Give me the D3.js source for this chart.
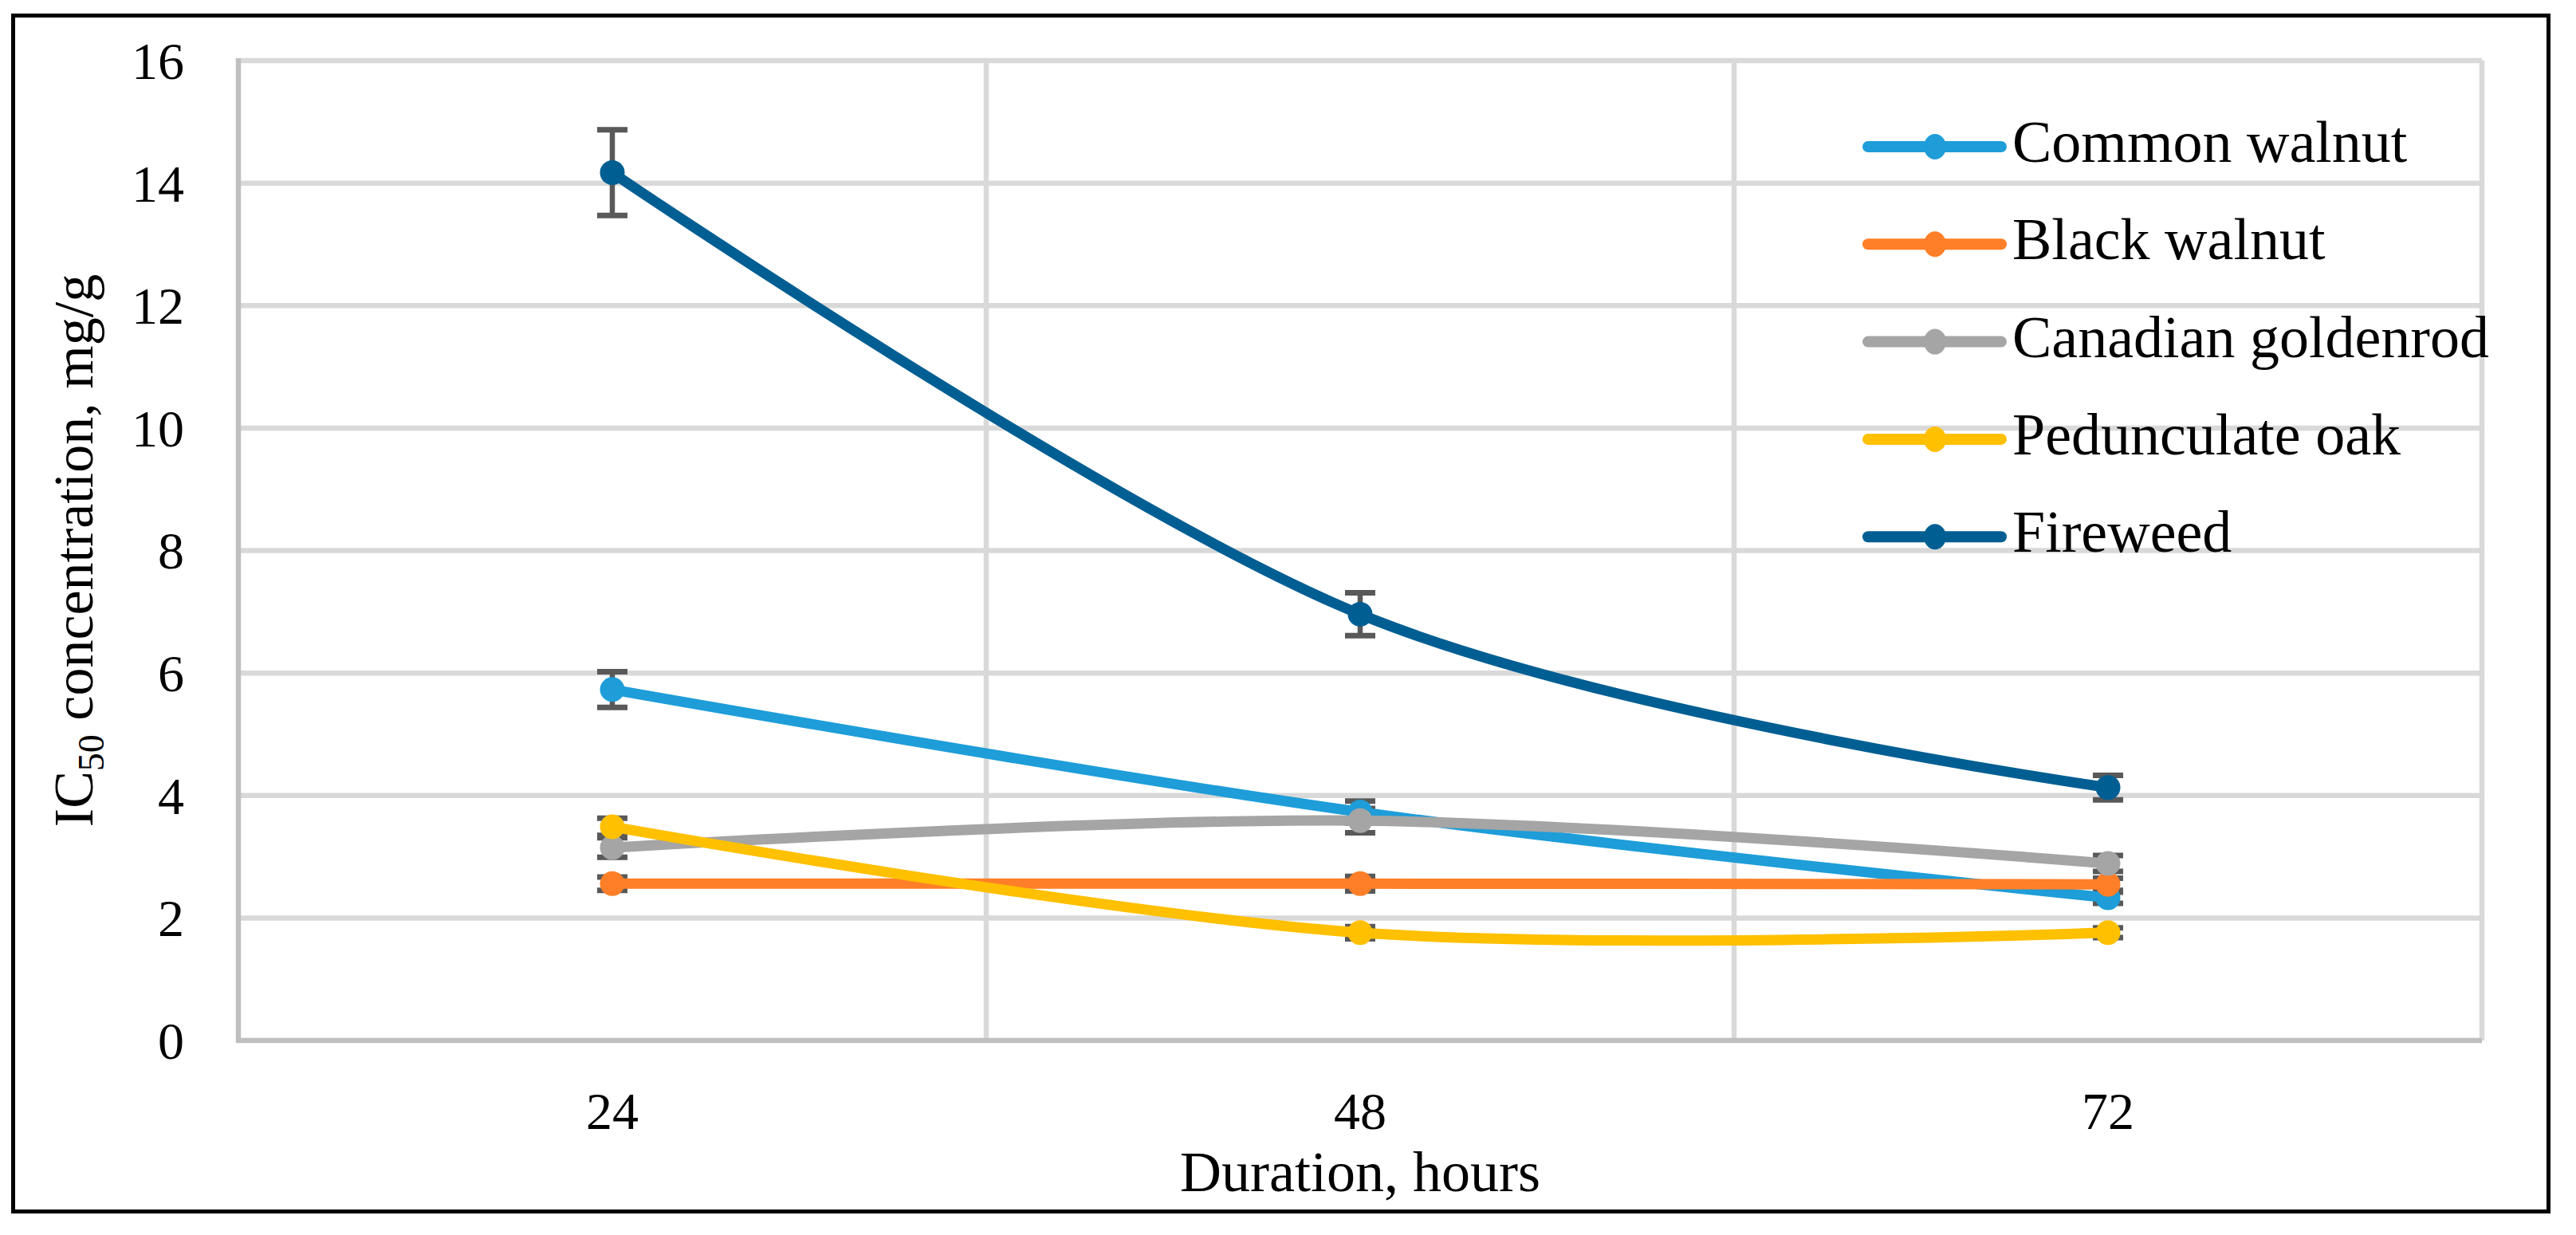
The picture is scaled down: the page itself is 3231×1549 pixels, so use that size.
<!DOCTYPE html>
<html>
<head>
<meta charset="utf-8">
<script src="https://cdn.jsdelivr.net/npm/d3@7"></script>
<style>
  html, body { margin: 0; padding: 0; background: #fff; }
  svg { display: block; }
  text { font-family: "Liberation Serif", "Times New Roman", serif; fill: #000; }
</style>
</head>
<body>
<svg id="chart" width="3231" height="1549"></svg>
<script>
// ---------- data ----------
const categories = ["24", "48", "72"];
const seriesNames = ["Common walnut", "Black walnut", "Canadian goldenrod", "Pedunculate oak", "Fireweed"];
const seriesColors = ["#1E9DD9", "#FE7F27", "#A5A5A5", "#FFC000", "#015E93"];
const commonWalnut      = [5.73, 3.73, 2.33];
const blackWalnut       = [2.56, 2.56, 2.55];
const canadianGoldenrod = [3.15, 3.59, 2.89];
const pedunculateOak    = [3.49, 1.76, 1.76];
const fireweed          = [14.17, 6.96, 4.13];
const commonWalnutErr      = [0.29, 0.18, 0.09];
const blackWalnutErr       = [0.11, 0.12, 0.10];
const canadianGoldenrodErr = [0.16, 0.20, 0.13];
const pedunculateOakErr    = [0.14, 0.10, 0.08];
const fireweedErr          = [0.70, 0.35, 0.20];
const yTicks = [0, 2, 4, 6, 8, 10, 12, 14, 16];
const xTitle = "Duration, hours";

const seriesValues = [commonWalnut, blackWalnut, canadianGoldenrod, pedunculateOak, fireweed];
const seriesErrors = [commonWalnutErr, blackWalnutErr, canadianGoldenrodErr, pedunculateOakErr, fireweedErr];
const series = seriesNames.map((name, i) => ({
  name, color: seriesColors[i],
  points: categories.map((c, j) => ({ cat: c, v: seriesValues[i][j], e: seriesErrors[i][j] }))
}));

// ---------- layout ----------
const svg = d3.select("#chart");
const plot = { left: 299, right: 3113, top: 76, bottom: 1305 };

const x = d3.scaleBand().domain(categories).range([plot.left, plot.right]).paddingInner(0).paddingOuter(0);
const xc = c => x(c) + x.bandwidth() / 2;
const y = d3.scaleLinear().domain([0, 16]).range([plot.bottom, plot.top]);

// outer frame
svg.append("rect").attr("x", 16.5).attr("y", 19.5).attr("width", 3180).attr("height", 1500)
  .attr("fill", "none").attr("stroke", "#000").attr("stroke-width", 5);

// horizontal gridlines
const gridG = svg.append("g");
gridG.selectAll("line.h").data(yTicks.filter(t => t > 0)).join("line")
  .attr("x1", plot.left).attr("x2", plot.right)
  .attr("y1", d => y(d)).attr("y2", d => y(d))
  .attr("stroke", "#D9D9D9").attr("stroke-width", 6.5);
// vertical gridlines at category boundaries
gridG.selectAll("line.v").data(categories).join("line")
  .attr("x1", d => x(d) + x.bandwidth()).attr("x2", d => x(d) + x.bandwidth())
  .attr("y1", plot.top).attr("y2", plot.bottom)
  .attr("stroke", "#D9D9D9").attr("stroke-width", 6.5);

// axis lines
svg.append("line").attr("x1", plot.left).attr("x2", plot.left)
  .attr("y1", plot.top - 3).attr("y2", plot.bottom + 3)
  .attr("stroke", "#BFBFBF").attr("stroke-width", 6.5);
svg.append("line").attr("x1", plot.left - 3).attr("x2", plot.right)
  .attr("y1", y(0)).attr("y2", y(0))
  .attr("stroke", "#BFBFBF").attr("stroke-width", 6.5);

// y tick labels via axis
const yAxis = d3.axisLeft(y).tickValues(yTicks).tickSize(0).tickPadding(0).tickFormat(d3.format("d"));
const yAxisG = svg.append("g").attr("transform", `translate(231,0)`).call(yAxis);
yAxisG.select(".domain").remove();
yAxisG.selectAll("text").attr("font-size", 66).attr("font-family", "Liberation Serif").attr("fill", "#000").attr("dy", "0.34em");

// x tick labels via axis
const xAxis = d3.axisBottom(x).tickSize(0).tickPadding(0);
const xAxisG = svg.append("g").attr("transform", `translate(0,1369)`).call(xAxis);
xAxisG.select(".domain").remove();
xAxisG.selectAll("text").attr("font-size", 66).attr("font-family", "Liberation Serif").attr("fill", "#000").attr("dy", "0.71em");

// axis titles
svg.append("text").attr("x", (plot.left + plot.right) / 2).attr("y", 1494)
  .attr("text-anchor", "middle").attr("font-size", 72).text(xTitle);

const yt = svg.append("text").attr("transform", `translate(116,${(plot.top + plot.bottom) / 2}) rotate(-90)`)
  .attr("text-anchor", "middle").attr("font-size", 70);
yt.append("tspan").text("IC");
yt.append("tspan").attr("font-size", 46).attr("dy", 14).text("50");
yt.append("tspan").attr("dy", -14).text(" concentration, mg/g");

// error bars
const capW = 38;
const errG = svg.append("g");
series.forEach(s => {
  const g = errG.append("g");
  g.selectAll("line.stem").data(s.points).join("line")
    .attr("x1", d => xc(d.cat)).attr("x2", d => xc(d.cat))
    .attr("y1", d => y(d.v + d.e)).attr("y2", d => y(d.v - d.e))
    .attr("stroke", "#595959").attr("stroke-width", 6.5);
  g.selectAll("line.capT").data(s.points).join("line")
    .attr("x1", d => xc(d.cat) - capW / 2).attr("x2", d => xc(d.cat) + capW / 2)
    .attr("y1", d => y(d.v + d.e)).attr("y2", d => y(d.v + d.e))
    .attr("stroke", "#595959").attr("stroke-width", 7);
  g.selectAll("line.capB").data(s.points).join("line")
    .attr("x1", d => xc(d.cat) - capW / 2).attr("x2", d => xc(d.cat) + capW / 2)
    .attr("y1", d => y(d.v - d.e)).attr("y2", d => y(d.v - d.e))
    .attr("stroke", "#595959").attr("stroke-width", 7);
});

// lines
const line = d3.line().x(d => xc(d.cat)).y(d => y(d.v)).curve(d3.curveCardinal.tension(0));
svg.append("g").selectAll("path").data(series).join("path")
  .attr("d", d => line(d.points))
  .attr("fill", "none").attr("stroke", d => d.color).attr("stroke-width", 13)
  .attr("stroke-linecap", "round").attr("stroke-linejoin", "round");

// markers
svg.append("g").selectAll("g").data(series).join("g")
  .each(function (s) {
    d3.select(this).selectAll("circle").data(s.points).join("circle")
      .attr("cx", d => xc(d.cat)).attr("cy", d => y(d.v)).attr("r", 15.5)
      .attr("fill", s.color);
  });

// legend
const legend = { lineX1: 2343, lineX2: 2510, markerX: 2427, textX: 2524, firstY: 184, step: 122.3 };
const lg = svg.append("g").selectAll("g").data(series).join("g")
  .attr("transform", (d, i) => `translate(0,${legend.firstY + i * legend.step})`);
lg.append("line").attr("x1", legend.lineX1).attr("x2", legend.lineX2).attr("y1", 0).attr("y2", 0)
  .attr("stroke", d => d.color).attr("stroke-width", 14).attr("stroke-linecap", "round");
lg.append("ellipse").attr("cx", legend.markerX).attr("cy", 0).attr("rx", 14).attr("ry", 16)
  .attr("fill", d => d.color);
lg.append("text").attr("x", legend.textX).attr("y", 19).attr("font-size", 74).text(d => d.name);
</script>
</body>
</html>
